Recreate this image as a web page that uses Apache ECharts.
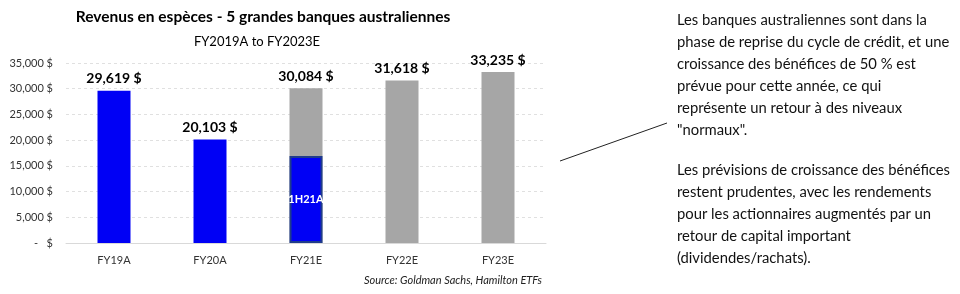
<!DOCTYPE html>
<html><head><meta charset="utf-8">
<script src="https://cdn.jsdelivr.net/npm/echarts@6/dist/echarts.min.js"></script>
<style>html,body{margin:0;padding:0;background:#fff}#c{width:960px;height:294px}</style>
</head><body><div id="c"></div>
<script>
const categories = ['FY19A','FY20A','FY21E','FY22E','FY23E'];
const actualValues = [29619, 20103, null, null, null];
const estimateValues = [null, null, 30084, 31618, 33235];
const halfYearValues = [null, null, 16900, null, null];
const halfYearLabel = '1H21A';
const yTicks = [0, 5000, 10000, 15000, 20000, 25000, 30000, 35000];

const fmt = v => v.toLocaleString('en-US') + ' $';
const font = 'Lato, "Open Sans", sans-serif';
const chart = echarts.init(document.getElementById('c'));
const topLabel = {show:true, position:'top', distance:5, fontFamily:font, fontWeight:'bold', fontSize:14, color:'#000', formatter:p=>fmt(p.value)};
chart.setOption({
  animation:false,
  title:[
    {text:'Revenus en espèces - 5 grandes banques australiennes', left:258, textAlign:'center', top:4, textStyle:{fontFamily:font, fontWeight:'bold', fontSize:15.5, color:'#000'}},
    {text:'FY2019A to FY2023E', left:252, textAlign:'center', top:30, textStyle:{fontFamily:font, fontWeight:'normal', fontSize:13, color:'#000'}},
    {text:'Source: Goldman Sachs, Hamilton ETFs', left:537, textAlign:'right', top:270, textStyle:{fontFamily:font, fontStyle:'italic', fontWeight:'normal', fontSize:11, color:'#222'}}
  ],
  grid:{left:66, right:414, top:63, bottom:51, containLabel:false},
  xAxis:{type:'category', data:categories, axisTick:{show:false},
    axisLine:{lineStyle:{color:'#d9d9d9'}},
    axisLabel:{fontFamily:font, fontSize:11, color:'#333', margin:12}},
  yAxis:{type:'value', min:yTicks[0], max:yTicks[yTicks.length-1], interval:5000,
    axisLine:{show:false}, axisTick:{show:false},
    splitLine:{lineStyle:{color:'#e0e0e0', type:[3,3]}},
    axisLabel:{fontFamily:font, fontSize:11, color:'#333', margin:13, formatter:v=> v===0 ? '-   $' : fmt(v)}},
  series:[
    {type:'bar', data:actualValues, barWidth:33, barGap:'-100%', itemStyle:{color:'#0000F5'}, label:topLabel},
    {type:'bar', data:estimateValues, barWidth:33, barGap:'-100%', itemStyle:{color:'#A6A6A6'}, label:topLabel},
    {type:'bar', data:halfYearValues, barWidth:33, barGap:'-100%', itemStyle:{color:'#0000F5', borderColor:'#1F3C8C', borderWidth:2},
      label:{show:true, position:'inside', fontFamily:font, fontWeight:'bold', fontSize:11, color:'#fff', formatter:()=>halfYearLabel}}
  ],
  graphic:[
    {type:'line', shape:{x1:560, y1:161, x2:667, y2:123}, style:{stroke:'#222', lineWidth:1}},
    {type:'text', left:677, top:9, style:{text:'Les banques australiennes sont dans la\nphase de reprise du cycle de crédit, et une\ncroissance des bénéfices de 50 % est\nprévue pour cette année, ce qui\nreprésente un retour à des niveaux\n"normaux".', fontFamily:font, fontSize:14.8, lineHeight:22, fill:'#111'}},
    {type:'text', left:677, top:159, style:{text:'Les prévisions de croissance des bénéfices\nrestent prudentes, avec les rendements\npour les actionnaires augmentés par un\nretour de capital important\n(dividendes/rachats).', fontFamily:font, fontSize:14.8, lineHeight:22, fill:'#111'}}
  ]
});
</script></body></html>
